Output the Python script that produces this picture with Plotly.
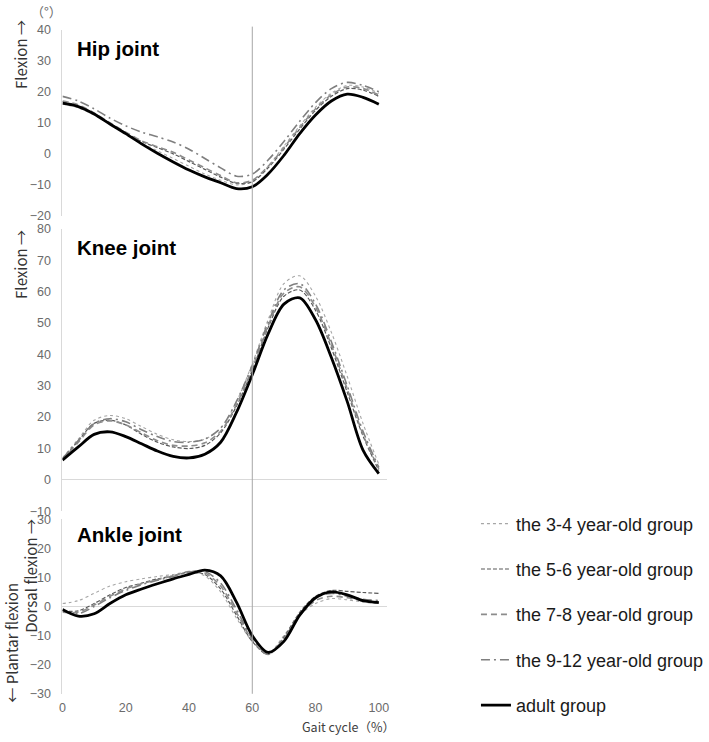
import plotly.graph_objects as go

# ---------------- data ----------------
gait = [0, 5, 10, 15, 20, 25, 30, 35, 40, 45, 50, 55, 60, 65, 70, 75, 80, 85, 90, 95, 100]

group_names = ["the 3-4 year-old group", "the 5-6 year-old group", "the 7-8 year-old group",
               "the 9-12 year-old group", "adult group"]

hip_34 = [16.0, 14.8, 12.5, 9.5, 6.5, 3.5, 1.0, -1.5, -4.0, -6.5, -8.5, -10.0, -9.0, -4.0, 2.5, 9.0, 15.0, 19.5, 22.0, 21.5, 19.5]
hip_56 = [16.8, 15.5, 13.0, 9.8, 6.8, 4.0, 2.0, 0.0, -2.5, -5.0, -7.5, -9.5, -9.0, -4.5, 1.5, 8.0, 14.0, 18.5, 21.0, 20.5, 18.5]
hip_78 = [17.0, 15.8, 13.2, 10.0, 7.0, 4.2, 2.3, 0.5, -2.0, -4.5, -7.0, -9.3, -8.5, -4.0, 2.0, 8.5, 14.5, 19.0, 21.5, 21.0, 19.0]
hip_912 = [18.5, 17.0, 14.5, 11.5, 9.0, 7.0, 5.5, 3.8, 1.5, -1.5, -4.5, -7.2, -6.5, -2.0, 4.0, 10.5, 16.5, 21.0, 23.0, 22.0, 20.0]
hip_adult = [16.3, 15.2, 12.8, 9.6, 6.5, 3.2, 0.2, -2.6, -5.2, -7.4, -9.3, -11.2, -10.6, -6.5, -0.5, 6.5, 12.5, 17.0, 19.2, 18.2, 16.0]

knee_34 = [7.0, 13.0, 19.0, 20.5, 19.5, 17.0, 14.5, 12.8, 12.2, 13.0, 16.5, 25.0, 37.0, 51.0, 62.5, 65.0, 58.5, 47.0, 33.0, 18.0, 5.0]
knee_56 = [6.5, 12.5, 18.0, 19.0, 17.5, 14.5, 12.0, 10.5, 10.0, 11.0, 15.0, 23.5, 35.0, 48.5, 58.5, 60.5, 54.0, 42.0, 28.0, 14.0, 3.0]
knee_78 = [6.5, 12.0, 17.5, 18.8, 17.5, 15.0, 12.5, 11.0, 10.8, 11.8, 15.5, 24.0, 35.5, 49.0, 59.5, 61.5, 55.0, 43.0, 29.0, 14.5, 3.5]
knee_912 = [6.8, 12.5, 18.0, 19.5, 18.5, 16.0, 13.8, 12.2, 12.0, 13.0, 16.5, 25.0, 36.5, 50.0, 60.5, 62.5, 56.0, 44.0, 30.0, 15.5, 4.0]
knee_adult = [6.3, 10.5, 14.5, 15.3, 13.8, 11.5, 9.2, 7.5, 7.0, 8.2, 12.0, 21.5, 33.5, 46.5, 56.0, 58.0, 51.0, 39.0, 25.0, 9.5, 2.0]

ankle_34 = [1.0, 2.0, 4.5, 7.0, 8.5, 9.5, 10.3, 11.0, 11.8, 10.5, 5.0, -4.0, -12.0, -16.0, -10.0, -3.0, 1.0, 2.7, 2.3, 1.5, 1.0]
ankle_56 = [-1.5, -1.5, 1.0, 4.0, 6.5, 8.0, 9.5, 10.5, 11.8, 11.0, 6.0, -3.0, -12.0, -16.5, -10.5, -2.0, 3.5, 5.5, 5.2, 4.8, 4.5]
ankle_78 = [-2.0, -2.0, 0.5, 3.5, 6.0, 7.8, 9.2, 10.5, 12.0, 11.5, 7.0, -2.0, -11.5, -16.5, -11.0, -3.0, 2.0, 3.5, 3.0, 2.0, 1.5]
ankle_912 = [-1.5, -2.5, 0.0, 3.0, 5.5, 7.5, 9.0, 10.3, 11.8, 12.0, 8.0, -1.0, -11.0, -16.2, -11.0, -2.5, 3.0, 4.5, 3.5, 2.5, 2.0]
ankle_adult = [-1.0, -3.3, -2.5, 1.0, 4.0, 6.0, 7.8, 9.5, 11.0, 12.5, 10.5, 1.5, -10.0, -15.8, -12.0, -3.0, 3.0, 5.0, 4.0, 2.0, 1.3]

x_ticks = [0, 20, 40, 60, 80, 100]

# ---------------- styles ----------------
styles = [
    dict(color="#a6a6a6", width=1.1, dash="dot"),
    dict(color="#595959", width=1.2, dash="4px,2px"),
    dict(color="#8c8c8c", width=1.6, dash="6px,4px"),
    dict(color="#7f7f7f", width=1.6, dash="9px,4px,2px,4px"),
    dict(color="#000000", width=2.8, dash="solid"),
]

hip = [hip_34, hip_56, hip_78, hip_912, hip_adult]
knee = [knee_34, knee_56, knee_78, knee_912, knee_adult]
ankle = [ankle_34, ankle_56, ankle_78, ankle_912, ankle_adult]

W, H = 709, 742
def px(v):
    return v / W
def py(v):
    return 1 - v / H

fig = go.Figure()
for i, name in enumerate(group_names):
    for j, (series, yax) in enumerate([(hip, "y"), (knee, "y2"), (ankle, "y3")]):
        fig.add_trace(go.Scatter(
            x=gait, y=series[i], mode="lines", name=name,
            line=dict(shape="spline", smoothing=0.9, **styles[i]),
            legendgroup=name, showlegend=(j == 0),
            xaxis="x", yaxis=yax, hoverinfo="skip",
        ))

tick_font = dict(family="Liberation Sans, Arial, sans-serif", size=12.5, color="#6b6b6b")
axis_common = dict(showgrid=False, showline=True, linecolor="#d9d9d9", linewidth=1,
                   ticks="", tickfont=tick_font, dtick=10, ticklabelstandoff=8,
                   anchor="x", fixedrange=True)

fig.update_layout(
    width=W, height=H,
    margin=dict(l=0, r=0, t=0, b=0),
    paper_bgcolor="white", plot_bgcolor="white",
    xaxis=dict(domain=[px(60), px(387)], range=[0, 102.5], tickvals=x_ticks,
               showgrid=False, zeroline=False, showline=False, ticks="",
               tickfont=tick_font, anchor="y3", ticklabelstandoff=5),
    yaxis=dict(domain=[py(213), py(23)], range=[-20, 40], zeroline=False, **axis_common),
    yaxis2=dict(domain=[py(514), py(226)], range=[-10, 80], zeroline=True,
                zerolinecolor="#d9d9d9", zerolinewidth=1, **axis_common),
    yaxis3=dict(domain=[py(700), py(522)], range=[-30, 30], zeroline=True,
                zerolinecolor="#d9d9d9", zerolinewidth=1, **axis_common),
    legend=dict(x=px(477), y=py(508), xanchor="left", yanchor="top",
                font=dict(family="Liberation Sans, Arial, sans-serif", size=18, color="#1a1a1a"),
                tracegroupgap=19, bgcolor="rgba(0,0,0,0)"),
    showlegend=True,
)

# vertical reference line at 60 % of gait cycle
fig.add_shape(type="line", xref="x", yref="paper", x0=60, x1=60, y0=py(700), y1=py(20),
              line=dict(color="#a6a6a6", width=1))

title_font = dict(family="Liberation Sans, Arial, sans-serif", size=20.5, color="black")
for text, ypix in [("<b>Hip joint</b>", 42), ("<b>Knee joint</b>", 245), ("<b>Ankle joint</b>", 538)]:
    fig.add_annotation(text=text, xref="paper", yref="paper", x=px(73), y=py(ypix),
                       xanchor="left", yanchor="middle", showarrow=False, font=title_font)

ylab_font = dict(family="Noto Sans CJK JP, sans-serif", size=15, color="#333333")
for text, xpix, ypix in [("Flexion →", 17, 48), ("Flexion →", 17, 262),
                         ("Dorsal flexion →", 27, 580), ("← Plantar flexion", 9, 648)]:
    fig.add_annotation(text=text, xref="paper", yref="paper", x=px(xpix), y=py(ypix),
                       xanchor="center", yanchor="middle", textangle=-90, showarrow=False,
                       font=ylab_font)

fig.add_annotation(text="（°）", xref="paper", yref="paper", x=px(44), y=py(5),
                   xanchor="center", yanchor="middle", showarrow=False,
                   font=dict(family="Noto Sans CJK JP, sans-serif", size=13, color="#6b6b6b"))
fig.add_annotation(text="Gait cycle（%）", xref="paper", yref="paper", x=px(348), y=py(733),
                   xanchor="center", yanchor="middle", showarrow=False,
                   font=dict(family="Noto Sans CJK JP, sans-serif", size=12.5, color="#404040"))

fig.write_html("out.html")
